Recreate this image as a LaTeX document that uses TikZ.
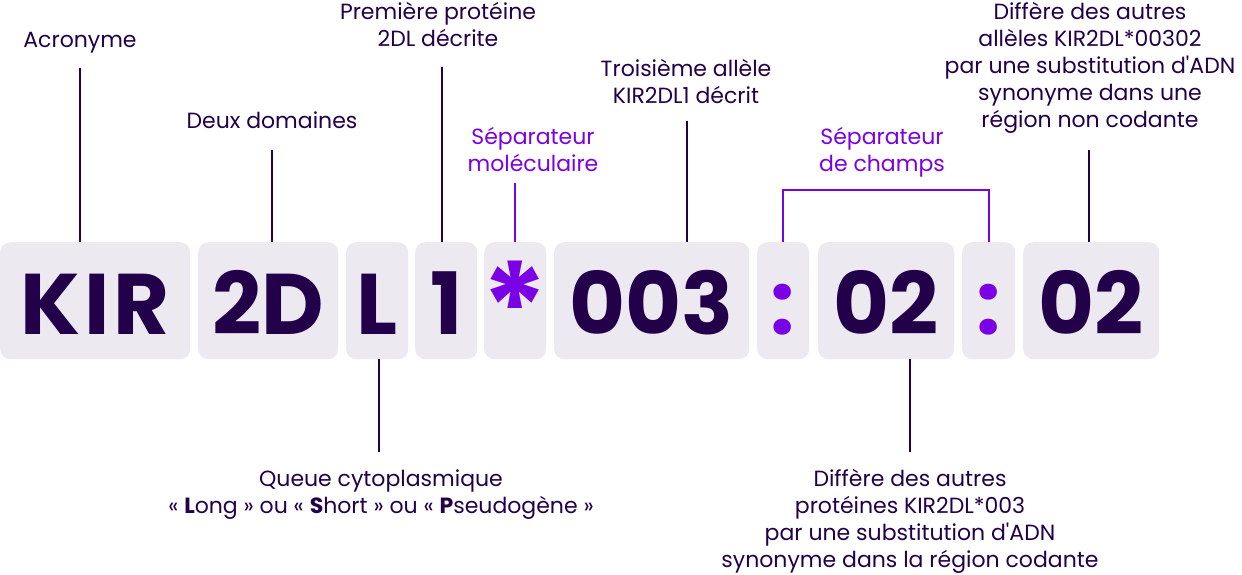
\documentclass[tikz,border=0pt]{standalone}
\usepackage{fontspec}
\setmainfont{Poppins}[Ligatures=TeXOff]
\definecolor{ink}{HTML}{22004A}
\definecolor{vio}{HTML}{7A00E6}
\definecolor{boxc}{HTML}{ECEAF0}
\begin{document}
\begin{tikzpicture}[x=1pt,y=-1pt,
  seg/.style={fill=boxc, rounded corners=10pt, inner sep=0pt, anchor=north west, minimum height=117pt},
  big/.style={font=\fontsize{86}{86}\selectfont\bfseries, text=ink, anchor=base, inner sep=0pt},
  bigv/.style={big, text=vio},
  lbl/.style={font=\fontsize{22}{27}\selectfont, text=ink, align=center, anchor=base, inner sep=0pt},
  lblv/.style={lbl, text=vio},
  ln/.style={draw=ink, line width=1.3pt},
  lnv/.style={draw=vio, line width=1.3pt}]
\useasboundingbox (0,0) rectangle (1242,574);
% boxes
\node[seg, minimum width=190pt] (kir) at (0,242) {};
\node[seg, minimum width=140pt] (dd) at (198,242) {};
\node[seg, minimum width=62pt] (ll) at (346,242) {};
\node[seg, minimum width=62pt] (one) at (415,242) {};
\node[seg, minimum width=62pt] (star) at (484,242) {};
\node[seg, minimum width=195pt] (num) at (554,242) {};
\node[seg, minimum width=52pt] (c1) at (757,242) {};
\node[seg, minimum width=136pt] (f1) at (818,242) {};
\node[seg, minimum width=53pt] (c2) at (962,242) {};
\node[seg, minimum width=136pt] (f2) at (1023,242) {};
% big text
\node[big] (tkir) at (kir.center |- 0,334) {K\kern4pt I\kern4pt R};
\node[big] (tdd) at (dd.center |- 0,334) {2D};
\node[big] (tll) at (ll.center |- 0,334) {L};
\node[big] (tone) at (one.center |- 0,334) {1};
\node[bigv, font=\fontsize{125}{125}\selectfont\bfseries] (tstar) at (star.center |- 0,353) {*};
\node[big] (tnum) at (num.center |- 0,334) {003};
\node[bigv] (tc1) at (c1.center |- 0,334) {:};
\node[big] (tf1) at (f1.center |- 0,334) {02};
\node[bigv] (tc2) at (c2.center |- 0,334) {:};
\node[big] (tf2) at (f2.center |- 0,334) {02};
% labels (base anchor = baseline of the last line)
\node[lbl] (lacr) at (80,47) {Acronyme};
\node[lbl] (ldd) at (272,128) {Deux domaines};
\node[lbl] (lprem) at (438,46) {Première protéine\\2DL décrite};
\node[lblv] (lsep) at (533,171) {Séparateur\\moléculaire};
\node[lbl] (ltrois) at (686,103) {Troisième allèle\\KIR2DL1 décrit};
\node[lblv] (lchamps) at (882,171) {Séparateur\\de champs};
\node[lbl] (lright) at (1090,127) {Diffère des autres\\allèles KIR2DL*00302\\par une substitution d'ADN\\synonyme dans une\\région non codante};
\node[lbl] (lqueue) at (381,513) {Queue cytoplasmique\\«~\textbf{L}ong~» ou «~\textbf{S}hort~» ou «~\textbf{P}seudogène~»};
\node[lbl] (lprot) at (910,567) {Diffère des autres\\protéines KIR2DL*003\\par une substitution d'ADN\\synonyme dans la région codante};
% connector ends
\coordinate (pa) at (80,68);
\coordinate (pd) at (272,150);
\coordinate (pp) at (442,67);
\coordinate (ps) at (515,183);
\coordinate (pt) at (687,121);
\coordinate (pl) at (783,190);
\coordinate (pr) at (989,190);
\coordinate (px) at (1089,150);
\coordinate (pq) at (379,452);
\coordinate (pb) at (910,452);
% connectors
\draw[ln] (pa) -- (pa |- kir.north);
\draw[ln] (pd) -- (pd |- dd.north);
\draw[ln] (pp) -- (pp |- one.north);
\draw[lnv] (ps) -- (ps |- star.north);
\draw[ln] (pt) -- (pt |- num.north);
\draw[lnv] (pl |- c1.north) -- (pl) -- (pr) -- (pr |- c2.north);
\draw[ln] (px) -- (px |- f2.north);
\draw[ln] (pq) -- (pq |- ll.south);
\draw[ln] (pb) -- (pb |- f1.south);
\end{tikzpicture}
\end{document}
